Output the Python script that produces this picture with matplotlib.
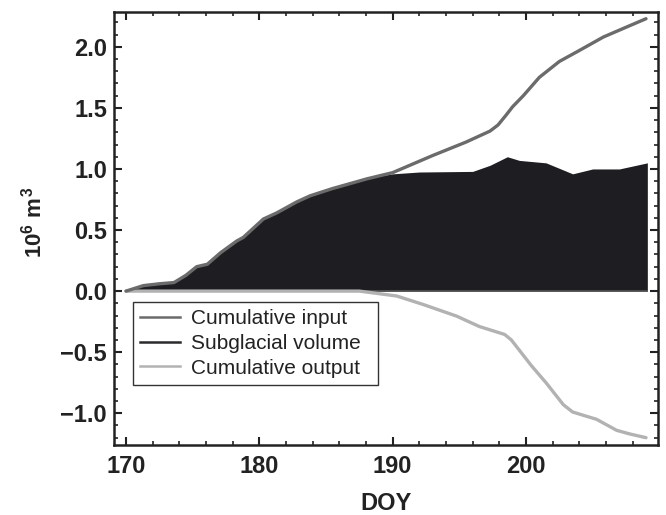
import matplotlib
matplotlib.use("Agg")
import matplotlib.pyplot as plt
from matplotlib.lines import Line2D
from matplotlib.ticker import MultipleLocator

plt.rcParams['font.family'] = ['Liberation Sans', 'DejaVu Sans']
plt.rcParams['mathtext.fontset'] = 'custom'
plt.rcParams['mathtext.rm'] = 'Liberation Sans:bold'
plt.rcParams['mathtext.bf'] = 'Liberation Sans:bold'
plt.rcParams['mathtext.it'] = 'Liberation Sans:bold'

# ---- data ----
days_input = [170.0, 171.3, 172.5, 173.6, 174.5, 175.3, 176.1, 177.1, 178.3, 178.8,
              180.3, 181.3, 182.8, 183.8, 185.5, 188.1, 190.0, 193.0, 195.5, 197.3,
              197.9, 198.5, 199.0, 199.8, 201.0, 202.5, 204.0, 205.8, 207.5, 209.0]
cum_input = [0.0, 0.045, 0.06, 0.07, 0.13, 0.20, 0.22, 0.315, 0.41, 0.44,
             0.59, 0.64, 0.73, 0.78, 0.84, 0.92, 0.97, 1.11, 1.22, 1.31,
             1.36, 1.44, 1.51, 1.60, 1.75, 1.88, 1.97, 2.08, 2.16, 2.23]

days_sub = [170.0, 171.3, 172.5, 173.6, 174.5, 175.3, 176.1, 177.1, 178.3, 178.8,
            180.3, 181.3, 182.8, 183.8, 185.5, 188.1, 189.4, 190.0, 192.0, 196.0,
            197.3, 198.6, 199.5, 201.5, 203.5, 205.0, 207.0, 209.1]
sub_volume = [0.0, 0.045, 0.06, 0.07, 0.13, 0.20, 0.22, 0.315, 0.41, 0.44,
              0.59, 0.64, 0.73, 0.78, 0.84, 0.92, 0.95, 0.96, 0.975, 0.98,
              1.03, 1.10, 1.07, 1.05, 0.96, 1.0, 1.0, 1.05]

days_output = [170.0, 187.5, 190.3, 192.3, 194.8, 196.5, 198.4, 198.9, 200.4, 201.5,
               202.8, 203.5, 205.3, 206.8, 207.8, 209.0]
cum_output = [0.0, 0.0, -0.04, -0.11, -0.205, -0.29, -0.355, -0.40, -0.61, -0.75,
              -0.93, -0.99, -1.05, -1.14, -1.17, -1.20]

x_ticks = [170, 180, 190, 200]
y_ticks = [-1.0, -0.5, 0.0, 0.5, 1.0, 1.5, 2.0]
series_labels = ['Cumulative input', 'Subglacial volume', 'Cumulative output']

# ---- styling ----
c_input = '#6b6b6b'
c_sub = '#2b2b2e'
c_fill = '#1d1d22'
c_output = '#b2b2b2'

fig = plt.figure(figsize=(6.66, 5.15), dpi=100)
ax = fig.add_axes([0.1712, 0.1359, 0.8168, 0.8408])

ax.fill_between(days_sub, 0, sub_volume, color=c_fill, lw=0, zorder=1)
ax.plot(days_sub, [0] * len(days_sub), color='#555555', lw=1.2, zorder=2)
ax.plot(days_output, cum_output, color=c_output, lw=2.4, zorder=3,
        solid_capstyle='round')
ax.plot(days_input, cum_input, color=c_input, lw=2.4, zorder=4,
        solid_capstyle='round')

ax.set_xlim(169.1, 209.9)
ax.set_ylim(-1.26, 2.285)
ax.set_xticks(x_ticks)
ax.set_yticks(y_ticks)
ax.set_yticklabels(['\u22121.0', '\u22120.5', '0.0', '0.5', '1.0', '1.5', '2.0'])
ax.xaxis.set_minor_locator(MultipleLocator(2))
ax.yaxis.set_minor_locator(MultipleLocator(0.1))
ax.tick_params(which='both', direction='in', top=True, right=True,
               color='#222222')
ax.tick_params(which='major', length=6, width=1.5, labelsize=17, pad=5)
ax.tick_params(axis='x', which='major', pad=7)
ax.tick_params(which='minor', length=3, width=1.2)
for lab in ax.get_xticklabels() + ax.get_yticklabels():
    lab.set_fontweight('bold')
    lab.set_color('#222222')
for sp in ax.spines.values():
    sp.set_linewidth(1.8)
    sp.set_color('#222222')

ax.set_xlabel('DOY', fontsize=17, fontweight='bold', color='#222222', labelpad=10)
ax.set_ylabel(r'$10^{6}\ m^{3}$', fontsize=16, color='#222222')
ax.yaxis.set_label_coords(-0.125, 0.515)

handles = [Line2D([], [], color=c_input, lw=1.8),
           Line2D([], [], color=c_sub, lw=1.8),
           Line2D([], [], color=c_output, lw=1.8)]
leg = ax.legend(handles, series_labels, loc='upper left',
                bbox_to_anchor=(0.035, 0.131, 0.45, 0.2), mode='expand',
                borderaxespad=0,
                fontsize=15, frameon=True, fancybox=False, framealpha=1,
                edgecolor='#333333', handlelength=1.9, handletextpad=0.55,
                labelspacing=0.28, borderpad=0.35)
leg.get_frame().set_linewidth(1.0)
for t in leg.get_texts():
    t.set_color('#222222')

fig.savefig('out.png', dpi=100)
